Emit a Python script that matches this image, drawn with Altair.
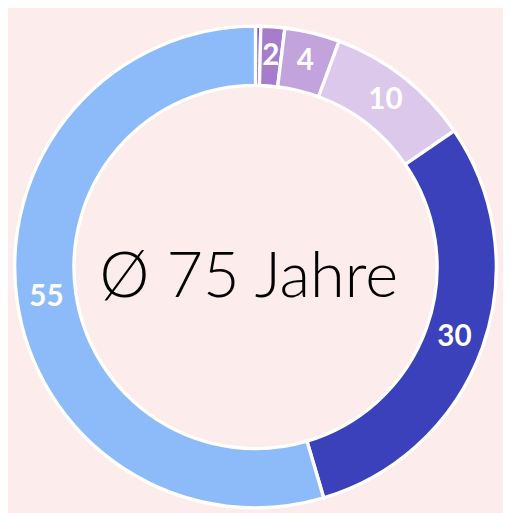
import altair as alt
import pandas as pd

categories = ["a", "b", "c", "d", "e", "f"]
values = [0.35, 1.6, 3.7, 9.8, 30.0, 54.6]
labels = ["", "2", "4", "10", "30", "55"]
colors = ["#8550C6", "#A67CCB", "#C3A3DC", "#DCC8EA", "#3B40BB", "#8DBBF9"]
order = [0, 1, 2, 3, 4, 5]
center_text = "Ø 75 Jahre"

df = pd.DataFrame({"cat": categories, "value": values, "label": labels, "order": order})

cx, cy = 258, 251

base = alt.Chart(df).encode(
    theta=alt.Theta("value:Q", stack=True),
    order=alt.Order("order:Q"),
    x=alt.value(cx), y=alt.value(cy),
)

arcs = base.mark_arc(stroke="white", strokeWidth=3.5).encode(
    color=alt.Color("cat:N", scale=alt.Scale(domain=categories, range=colors), legend=None),
    radius=alt.value(252), radius2=alt.value(190),
)

text = base.mark_text(font="Lato", fontWeight="bold", fontSize=31, color="white",
                      align="center", baseline="middle").encode(
    text="label:N", radius=alt.value(221),
)

center = alt.Chart(pd.DataFrame({"t": [center_text]})).mark_text(
    font="Lato", fontWeight=300, fontSize=66, color="black", align="center", baseline="alphabetic"
).encode(text="t:N", x=alt.value(251), y=alt.value(282))

chart = alt.layer(arcs, text, center).properties(
    width=495, height=490, padding=0, background="#FCECEC"
).configure_view(stroke=None)

chart.save("out.html", embed_options={"renderer": "svg", "actions": False})
